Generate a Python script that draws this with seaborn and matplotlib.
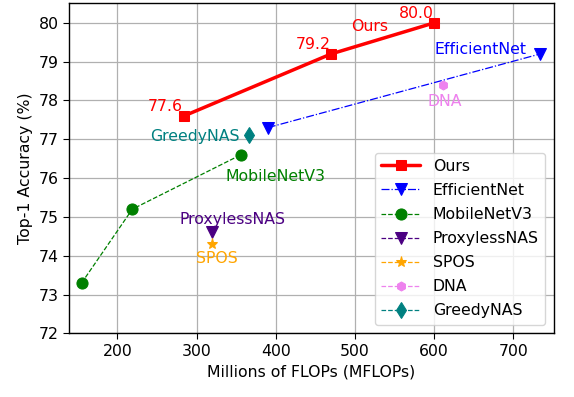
import pandas as pd
import seaborn as sns
import matplotlib
matplotlib.use('Agg')
import matplotlib.pyplot as plt

# Data (MFLOPs, top-1 accuracy)
ours_flops = [284, 470, 600]
ours_acc = [77.6, 79.2, 80.0]
effnet_flops = [390, 734]
effnet_acc = [77.3, 79.2]
mbv3_flops = [155, 219, 356]
mbv3_acc = [73.3, 75.2, 76.6]
proxyless_flops = [320]
proxyless_acc = [74.6]
spos_flops = [319]
spos_acc = [74.3]
dna_flops = [611]
dna_acc = [78.4]
greedy_flops = [366]
greedy_acc = [77.1]

FS = 11.3

sns.set_style("ticks")
plt.rcParams['font.family'] = ['DejaVu Sans']
plt.rcParams['text.color'] = 'black'
plt.rcParams['axes.labelcolor'] = 'black'
plt.rcParams['xtick.color'] = 'black'
plt.rcParams['ytick.color'] = 'black'

fig = plt.figure(figsize=(5.74, 3.97), dpi=100)
ax = fig.add_axes([0.1202, 0.1604, 0.8444, 0.8328])

series = [
    ('Ours', ours_flops, ours_acc, 'red', '-', 's', 7, 2.5),
    ('EfficientNet', effnet_flops, effnet_acc, 'blue', '-.', 'v', 8, 0.9),
    ('MobileNetV3', mbv3_flops, mbv3_acc, 'green', '--', 'o', 8, 0.9),
    ('ProxylessNAS', proxyless_flops, proxyless_acc, 'indigo', '--', 'v', 8, 0.9),
    ('SPOS', spos_flops, spos_acc, 'orange', '--', '*', 8, 0.9),
    ('DNA', dna_flops, dna_acc, 'violet', '--', 'h', 6.5, 0.9),
    ('GreedyNAS', greedy_flops, greedy_acc, 'teal', '--', 'd', 8, 0.9),
]

for name, xs, ys, color, ls, mk, ms, lw in series:
    df = pd.DataFrame({'flops': xs, 'acc': ys})
    sns.lineplot(data=df, x='flops', y='acc', ax=ax, sort=False, color=color,
                 linestyle=ls, marker=mk, markersize=ms, linewidth=lw,
                 markeredgecolor=color, label=name)

# value labels for our models
for x, y in zip(ours_flops, ours_acc):
    ax.text(x - 45, y + 0.12, f'{y:.1f}', color='red', fontsize=FS)

# model name labels
ax.text(495, 79.8, 'Ours', color='red', fontsize=FS)
ax.text(600, 79.2, 'EfficientNet', color='blue', fontsize=FS)
ax.text(592, 77.85, 'DNA', color='violet', fontsize=FS)
ax.text(242, 76.95, 'GreedyNAS', color='teal', fontsize=FS)
ax.text(336, 75.93, 'MobileNetV3', color='green', fontsize=FS)
ax.text(279, 74.82, 'ProxylessNAS', color='indigo', fontsize=FS)
ax.text(299, 73.8, 'SPOS', color='orange', fontsize=FS)

ax.set_xlim(139, 751)
ax.set_ylim(72, 80.52)
ax.set_xticks([200, 300, 400, 500, 600, 700])
ax.set_yticks([72, 73, 74, 75, 76, 77, 78, 79, 80])
ax.tick_params(labelsize=FS, length=4, color='black', labelcolor='black')
ax.grid(True, color='#b0b0b0', linewidth=0.9)
for s in ax.spines.values():
    s.set_color('black')
    s.set_linewidth(1.0)

ax.set_xlabel('Millions of FLOPs (MFLOPs)', fontsize=FS, color='black')
ax.set_ylabel('Top-1 Accuracy (%)', fontsize=FS, color='black')
ax.legend(loc='lower right', fontsize=FS, handlelength=2.5, labelspacing=0.58,
          borderaxespad=0.55)

fig.savefig('out.png', dpi=100)
